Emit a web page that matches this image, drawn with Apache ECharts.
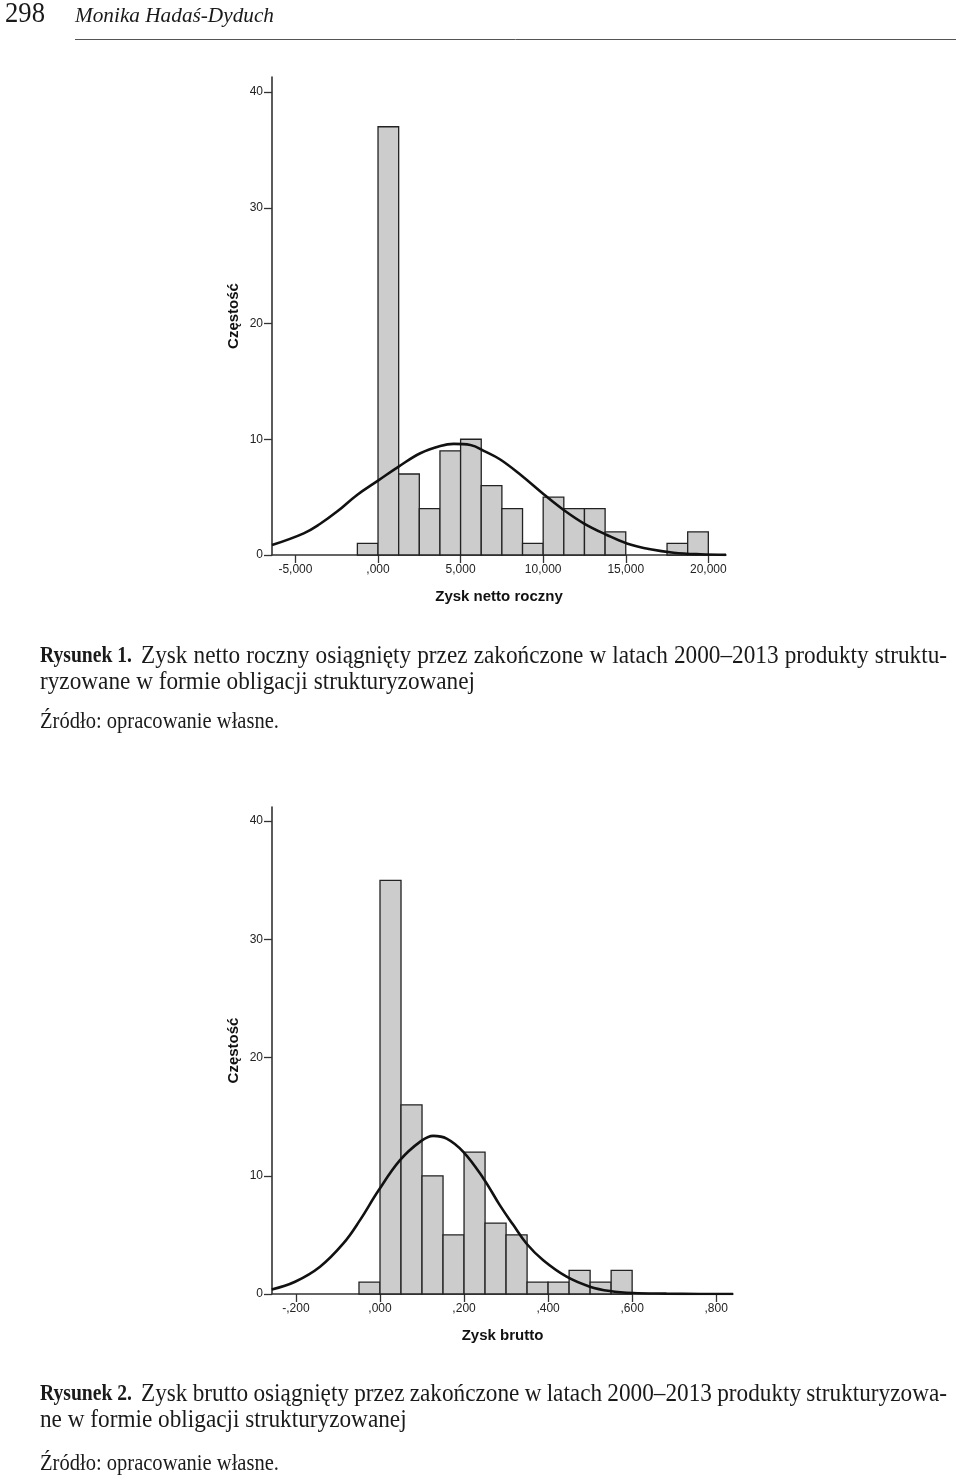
<!DOCTYPE html>
<html>
<head>
<meta charset="utf-8">
<script src="https://cdn.jsdelivr.net/npm/echarts@6/dist/echarts.min.js"></script>
<style>
html,body{margin:0;padding:0;background:#fff;}
#c{width:960px;height:1477px;}
</style>
</head>
<body>
<div id="c"></div>
<script>
// ---- Data: Rysunek 1 (Zysk netto roczny) ----
const binEdges1 = [-1250, 0, 1250, 2500, 3750, 5000, 6250, 7500, 8750, 10000, 11250, 12500, 13750, 15000, 16250, 17500, 18750, 20000];
const counts1 = [1, 37, 7, 4, 9, 10, 6, 4, 1, 5, 4, 4, 2, 0, 0, 1, 2];
const curve1 = [
  [-6420, 0.86], [-4500, 1.87], [-3500, 2.7], [-2480, 3.75], [-1270, 5.19], [0, 6.43],
  [1250, 7.64], [2560, 8.79], [3770, 9.42], [4580, 9.6], [5590, 9.51], [6500, 8.93], [7400, 8.25],
  [8610, 6.95], [10030, 5.25], [11240, 3.89], [12450, 2.74], [13860, 1.73], [15070, 1.0],
  [16490, 0.49], [17900, 0.2], [19510, 0.06], [21070, 0.01]
];
const xTicks1 = [-5000, 0, 5000, 10000, 15000, 20000];
const xTickLabels1 = ['-5,000', ',000', '5,000', '10,000', '15,000', '20,000'];

// ---- Data: Rysunek 2 (Zysk brutto) ----
const binEdges2 = [-0.05, 0, 0.05, 0.1, 0.15, 0.2, 0.25, 0.3, 0.35, 0.4, 0.45, 0.5, 0.55, 0.6];
const counts2 = [1, 35, 16, 10, 5, 12, 6, 5, 1, 1, 2, 1, 2];
const curve2 = [
  [-0.2576, 0.39], [-0.2021, 1.04], [-0.1427, 2.31], [-0.0872, 4.28], [-0.0476, 6.25],
  [-0.004, 8.73], [0.0476, 11.32], [0.0951, 12.87], [0.1268, 13.38], [0.1586, 13.15],
  [0.1982, 12.03], [0.2457, 9.8], [0.2854, 7.5], [0.317, 5.85], [0.3489, 4.25],
  [0.3884, 2.85], [0.444, 1.46], [0.4994, 0.62], [0.547, 0.25], [0.6024, 0.08],
  [0.6817, 0.03], [0.76, 0.005], [0.84, 0.0]
];
const xTicks2 = [-0.2, 0, 0.2, 0.4, 0.6, 0.8];
const xTickLabels2 = ['-,200', ',000', ',200', ',400', ',600', ',800'];

const yTicks = [0, 10, 20, 30, 40];
const yTickLabels = ['0', '10', '20', '30', '40'];

const yName = 'Częstość';
const xName1 = 'Zysk netto roczny';
const xName2 = 'Zysk brutto';

const pageNumber = '298';
const author = 'Monika Hadaś-Dyduch';
const cap1Bold = 'Rysunek 1.';
const cap1Line1 = 'Zysk netto roczny osiągnięty przez zakończone w latach 2000–2013 produkty struktu-';
const cap1Line2 = 'ryzowane w formie obligacji strukturyzowanej';
const cap2Bold = 'Rysunek 2.';
const cap2Line1 = 'Zysk brutto osiągnięty przez zakończone w latach 2000–2013 produkty strukturyzowa-';
const cap2Line2 = 'ne w formie obligacji strukturyzowanej';
const sourceText = 'Źródło: opracowanie własne.';

// ---- build ----
function binsToData(edges, counts) {
  return counts.map((c, i) => [edges[i], edges[i + 1], c]);
}
function labelFor(ticks, labels) {
  return function (v) {
    for (let i = 0; i < ticks.length; i++) {
      if (Math.abs(ticks[i] - v) < 1e-9 * Math.max(1, Math.abs(v)) + 1e-9) return labels[i];
    }
    return '';
  };
}
function renderBin(params, api) {
  const h = api.value(2);
  if (!h) return null;
  const p0 = api.coord([api.value(0), h]);
  const p1 = api.coord([api.value(1), 0]);
  return {
    type: 'rect',
    shape: { x: p0[0], y: p0[1], width: p1[0] - p0[0], height: p1[1] - p0[1] },
    style: { fill: '#cccccc', stroke: '#222', lineWidth: 1.3 }
  };
}

const SANS = 'Liberation Sans, Arial, Helvetica, sans-serif';
const SERIF = 'Liberation Serif, Times New Roman, serif';
const mctx = document.createElement('canvas').getContext('2d');
function mw(font, t) { mctx.font = font; return mctx.measureText(t).width; }

const CAPF = 25;      // caption font
const BOLDF = 23;     // bold label font
const SRCF = 22.5;    // source line font
const capFontN = CAPF + 'px ' + SERIF;
const capFontB = 'bold ' + BOLDF + 'px ' + SERIF;
const srcFont = SRCF + 'px ' + SERIF;
const sCap = 435 / mw(capFontN, cap1Line2);
const sBold = 92 / mw(capFontB, cap1Bold);
const sSrc = 239 / mw(srcFont, sourceText);

const HF = 30;
const scNum = 40 / mw(HF + 'px ' + SERIF, pageNumber);
const AF = 20;
const scAuth = 199 / mw('italic ' + AF + 'px ' + SERIF, author);

function txt(x, y, text, size, sc, bold) {
  return {
    type: 'text', x: x, y: y, scaleX: sc, scaleY: 1,
    style: {
      text: text, fill: '#1a1a1a', fontFamily: SERIF, fontSize: size,
      fontWeight: bold ? 'bold' : 'normal', align: 'left', verticalAlign: 'middle'
    }
  };
}
// justified first line: bold label, then normal words spread between xs and x1
function justLine(x0, xs, x1, y, boldText, normalText) {
  const out = [txt(x0, y + 0.5, boldText, BOLDF, sBold, true)];
  const words = normalText.split(' ');
  const widths = words.map(w => mw(capFontN, w) * sCap);
  const total = widths.reduce((a, b) => a + b, 0);
  const gap = (x1 - xs - total) / (words.length - 1);
  let cx = xs;
  words.forEach((w, i) => { out.push(txt(cx, y, w, CAPF, sCap, false)); cx += widths[i] + gap; });
  return out;
}

function xAxisCfg(idx, min, max, ticks, labels, name) {
  return {
    type: 'value', gridIndex: idx, min: min, max: max,
    name: name, nameLocation: 'middle', nameGap: 34,
    nameTextStyle: { fontFamily: SANS, fontSize: 15, fontWeight: 'bold', color: '#111' },
    axisLine: { show: true, onZero: false, lineStyle: { color: '#333', width: 1.6 } },
    axisTick: { show: true, customValues: ticks, length: 8, lineStyle: { color: '#333', width: 1.3 } },
    axisLabel: { show: true, customValues: ticks, formatter: labelFor(ticks, labels), margin: 9,
      fontFamily: SANS, fontSize: 12, color: '#222' },
    splitLine: { show: false }
  };
}
function yAxisCfg(idx, max) {
  return {
    type: 'value', gridIndex: idx, min: 0, max: max,
    name: yName, nameLocation: 'middle', nameGap: 31, nameRotate: 90,
    nameTextStyle: { fontFamily: SANS, fontSize: 15, fontWeight: 'bold', color: '#111' },
    axisLine: { show: true, onZero: false, lineStyle: { color: '#333', width: 1.6 } },
    axisTick: { show: true, customValues: yTicks, length: 8, lineStyle: { color: '#333', width: 1.3 } },
    axisLabel: { show: true, customValues: yTicks, formatter: labelFor(yTicks, yTickLabels), margin: 9,
      fontFamily: SANS, fontSize: 12, color: '#222' },
    splitLine: { show: false }
  };
}

const graphics = [
  { type: 'text', x: 5, y: 14, scaleX: scNum, style: { text: pageNumber, fontFamily: SERIF, fontSize: HF,
    fill: '#1a1a1a', align: 'left', verticalAlign: 'middle' } },
  { type: 'text', x: 75, y: 17, scaleX: scAuth, style: { text: author, fontFamily: SERIF, fontSize: AF,
    fontStyle: 'italic', fill: '#1a1a1a', align: 'left', verticalAlign: 'middle' } },
  { type: 'line', shape: { x1: 75, y1: 39.5, x2: 956, y2: 39.5 }, style: { stroke: '#555', lineWidth: 1 } }
]
  .concat(justLine(40, 141, 947, 656, cap1Bold, cap1Line1))
  .concat([txt(40, 682, cap1Line2, CAPF, sCap, false), txt(40, 722, sourceText, SRCF, sSrc, false)])
  .concat(justLine(40, 141, 947, 1394, cap2Bold, cap2Line1))
  .concat([txt(40, 1420, cap2Line2, CAPF, sCap, false), txt(40, 1464, sourceText, SRCF, sSrc, false)]);

const chart = echarts.init(document.getElementById('c'), null, { renderer: 'canvas', width: 960, height: 1477 });
chart.setOption({
  animation: false,
  backgroundColor: '#ffffff',
  grid: [
    { left: 272, right: 234, top: 77, bottom: 922, containLabel: false, outerBoundsMode: 'none' },
    { left: 272, right: 227, top: 807, bottom: 183, containLabel: false, outerBoundsMode: 'none' }
  ],
  xAxis: [
    xAxisCfg(0, -6420, 21070, xTicks1, xTickLabels1, xName1),
    xAxisCfg(1, -0.257, 0.84, xTicks2, xTickLabels2, xName2)
  ],
  yAxis: [yAxisCfg(0, 41.3), yAxisCfg(1, 41.2)],
  series: [
    { type: 'custom', xAxisIndex: 0, yAxisIndex: 0, renderItem: renderBin,
      encode: { x: [0, 1], y: 2 }, data: binsToData(binEdges1, counts1), z: 2 },
    { type: 'line', xAxisIndex: 0, yAxisIndex: 0, data: curve1, smooth: 0.4,
      showSymbol: false, symbol: 'none', lineStyle: { color: '#111', width: 2.6 }, z: 3, silent: true },
    { type: 'custom', xAxisIndex: 1, yAxisIndex: 1, renderItem: renderBin,
      encode: { x: [0, 1], y: 2 }, data: binsToData(binEdges2, counts2), z: 2 },
    { type: 'line', xAxisIndex: 1, yAxisIndex: 1, data: curve2, smooth: 0.4,
      showSymbol: false, symbol: 'none', lineStyle: { color: '#111', width: 2.6 }, z: 3, silent: true }
  ],
  graphic: graphics
});
</script>
</body>
</html>
